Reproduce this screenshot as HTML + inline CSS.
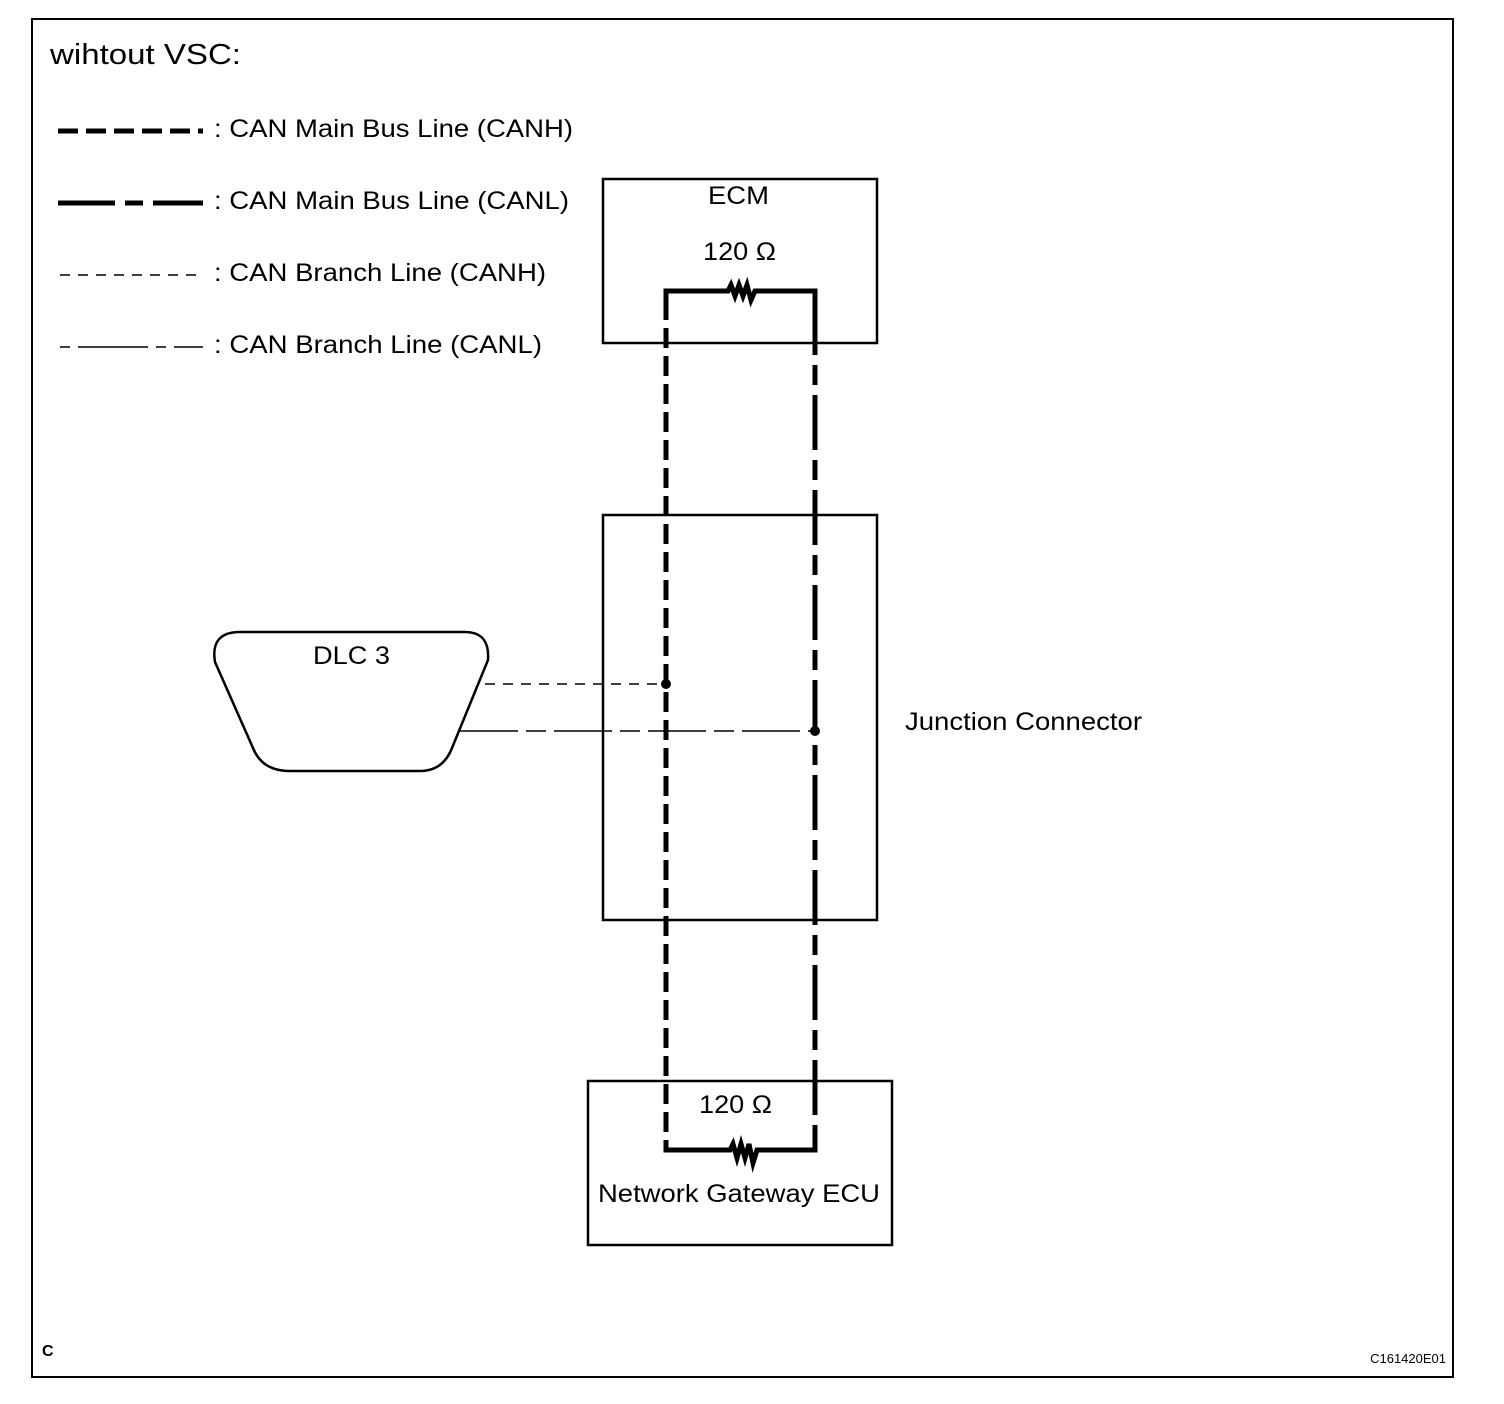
<!DOCTYPE html>
<html><head><meta charset="utf-8"><style>
body{margin:0;background:#fff}
svg{display:block}
text{font-family:"Liberation Sans",sans-serif;fill:#000}
</style></head><body>
<svg width="1504" height="1404" viewBox="0 0 1504 1404" xmlns="http://www.w3.org/2000/svg">
<rect x="0" y="0" width="1504" height="1404" fill="#fff"/>
<rect x="32" y="19" width="1421" height="1358" fill="none" stroke="#000" stroke-width="2"/>
<text x="50" y="64" font-size="29" textLength="191" lengthAdjust="spacingAndGlyphs">wihtout VSC:</text>
<!-- legend -->
<line x1="58" y1="131" x2="203" y2="131" stroke="#000" stroke-width="5" stroke-dasharray="20,8"/>
<line x1="58" y1="203" x2="203" y2="203" stroke="#000" stroke-width="5" stroke-dasharray="57,10,18,10,60"/>
<line x1="60" y1="275" x2="203" y2="275" stroke="#000" stroke-width="1.5" stroke-dasharray="10,8"/>
<line x1="60" y1="347" x2="203" y2="347" stroke="#000" stroke-width="1.5" stroke-dasharray="10,8,70,8,10,8,30"/>
<text x="214" y="137" font-size="25" textLength="359" lengthAdjust="spacingAndGlyphs">: CAN Main Bus Line (CANH)</text>
<text x="214" y="209" font-size="25" textLength="355" lengthAdjust="spacingAndGlyphs">: CAN Main Bus Line (CANL)</text>
<text x="214" y="281" font-size="25" textLength="332" lengthAdjust="spacingAndGlyphs">: CAN Branch Line (CANH)</text>
<text x="214" y="353" font-size="25" textLength="328" lengthAdjust="spacingAndGlyphs">: CAN Branch Line (CANL)</text>
<!-- boxes -->
<rect x="603" y="179" width="274" height="164" fill="none" stroke="#000" stroke-width="2.5"/>
<rect x="603" y="515" width="274" height="405" fill="none" stroke="#000" stroke-width="2.5"/>
<rect x="588" y="1081" width="304" height="164" fill="none" stroke="#000" stroke-width="2.5"/>
<text x="708" y="204" font-size="25" textLength="61" lengthAdjust="spacingAndGlyphs">ECM</text>
<text x="703" y="260" font-size="25" textLength="73" lengthAdjust="spacingAndGlyphs">120 Ω</text>
<text x="699" y="1113" font-size="25" textLength="73" lengthAdjust="spacingAndGlyphs">120 Ω</text>
<text x="598" y="1202" font-size="25" textLength="282" lengthAdjust="spacingAndGlyphs">Network Gateway ECU</text>
<text x="905" y="730" font-size="25" textLength="237" lengthAdjust="spacingAndGlyphs">Junction Connector</text>
<!-- resistors -->
<polyline points="666,300 666,291 728,291 731,285 735,296 739,285 743,296 747,285 751,300 755,291 815,291 815,300" fill="none" stroke="#000" stroke-width="5"/>
<polyline points="666,1140 666,1150 730,1150 733,1144 737,1158 741,1144 745,1158 749,1144 753,1163 757,1150 815,1150 815,1140" fill="none" stroke="#000" stroke-width="5"/>
<!-- main buses -->
<line x1="666" y1="300" x2="666" y2="1140" stroke="#000" stroke-width="5" stroke-dasharray="20,8"/>
<line x1="815" y1="300" x2="815" y2="1140" stroke="#000" stroke-width="5" stroke-dasharray="55,10,20,10"/>
<!-- DLC -->
<path d="M240,632 L465,632 Q490,632 488,660 L452,748 Q443,771 420,771 L290,771 Q262,771 253,748 L215,662 Q210,632 240,632 Z" fill="none" stroke="#000" stroke-width="2.5"/>
<text x="313" y="664" font-size="25" textLength="77" lengthAdjust="spacingAndGlyphs">DLC 3</text>
<line x1="485" y1="684" x2="666" y2="684" stroke="#000" stroke-width="1.5" stroke-dasharray="10,8"/>
<line x1="460" y1="731" x2="815" y2="731" stroke="#000" stroke-width="1.5" stroke-dasharray="58,8,20,8"/>
<circle cx="666" cy="684" r="5" fill="#000"/>
<circle cx="815" cy="731" r="5" fill="#000"/>
<text x="42" y="1356" font-size="16" font-weight="bold">C</text>
<text x="1446" y="1363" font-size="13" text-anchor="end">C161420E01</text>
</svg>
</body></html>
